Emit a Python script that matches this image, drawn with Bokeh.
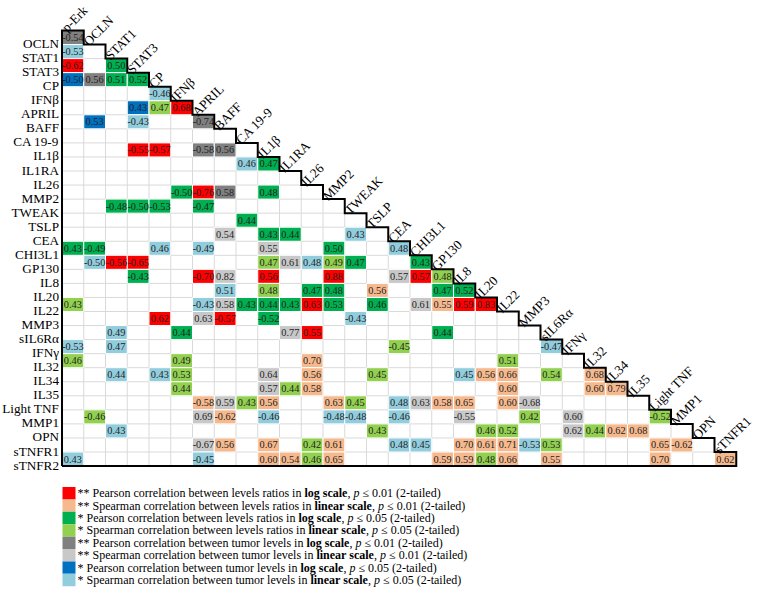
import math
from bokeh.plotting import figure
from bokeh.models import ColumnDataSource, Range1d
from bokeh.core.properties import value
from bokeh.embed import file_html
from bokeh.resources import INLINE

# ---------------- data ----------------
col_labels = ["p-Erk", "OCLN", "STAT1", "STAT3", "CP", "IFNβ", "APRIL", "BAFF",
              "CA 19-9", "IL1β", "IL1RA", "IL26", "MMP2", "TWEAK", "TSLP", "CEA",
              "CHI3L1", "GP130", "IL8", "IL20", "IL22", "MMP3", "sIL6Rα", "IFNγ",
              "IL32", "IL34", "IL35", "Light TNF", "MMP1", "OPN", "sTNFR1"]
row_labels = col_labels[1:] + ["sTNFR2"]

# significance categories (legend order)
cat_codes = ["A", "B", "C", "D", "E", "F", "G", "H"]
cat_colors = ["#FF0000", "#F6B98E", "#00B050", "#92D050",
              "#808080", "#C8C8C8", "#0070C0", "#92CDDD"]
cat_stars = ["**", "**", "*", "*", "**", "**", "*", "*"]
cat_method = ["Pearson", "Spearman", "Pearson", "Spearman",
              "Pearson", "Spearman", "Pearson", "Spearman"]
cat_measure = ["levels ratios"] * 4 + ["tumor levels"] * 4
cat_scale = ["log", "linear", "log", "linear", "log", "linear", "log", "linear"]
cat_p = ["0.01", "0.01", "0.05", "0.05", "0.01", "0.01", "0.05", "0.05"]

# cells per row: (column variable, r, category)
r_OCLN = [("p-Erk", -0.54, "E")]
r_STAT1 = [("p-Erk", -0.53, "H")]
r_STAT3 = [("p-Erk", -0.62, "A"), ("STAT1", 0.50, "C")]
r_CP = [("p-Erk", -0.50, "G"), ("OCLN", 0.56, "E"), ("STAT1", 0.51, "C"), ("STAT3", 0.52, "C")]
r_IFNb = [("CP", -0.46, "H")]
r_APRIL = [("STAT3", 0.43, "G"), ("CP", 0.47, "D"), ("IFNβ", 0.68, "A")]
r_BAFF = [("OCLN", 0.53, "G"), ("STAT3", -0.43, "H"), ("APRIL", -0.74, "E")]
r_CA199 = []
r_IL1b = [("STAT3", -0.55, "A"), ("CP", -0.57, "A"), ("APRIL", -0.58, "E"), ("BAFF", 0.56, "E")]
r_IL1RA = [("CA 19-9", 0.46, "H"), ("IL1β", 0.47, "C")]
r_IL26 = []
r_MMP2 = [("IFNβ", -0.50, "C"), ("APRIL", -0.76, "A"), ("BAFF", 0.58, "E"), ("IL1β", 0.48, "C")]
r_TWEAK = [("STAT1", -0.48, "C"), ("STAT3", -0.50, "C"), ("CP", -0.53, "C"), ("APRIL", -0.47, "C")]
r_TSLP = [("CA 19-9", 0.44, "C")]
r_CEA = [("BAFF", 0.54, "F"), ("IL1β", 0.43, "C"), ("IL1RA", 0.44, "C"), ("TWEAK", 0.43, "H")]
r_CHI3L1 = [("p-Erk", 0.43, "C"), ("OCLN", -0.49, "C"), ("CP", 0.46, "H"), ("APRIL", -0.49, "H"),
            ("IL1β", 0.55, "F"), ("MMP2", 0.50, "C"), ("CEA", 0.48, "H")]
r_GP130 = [("OCLN", -0.50, "H"), ("STAT1", -0.56, "A"), ("STAT3", -0.65, "A"), ("IL1β", 0.47, "D"),
           ("IL1RA", 0.61, "F"), ("IL26", 0.48, "H"), ("MMP2", 0.49, "D"), ("TWEAK", 0.47, "C"),
           ("CHI3L1", 0.43, "C")]
r_IL8 = [("STAT3", -0.43, "C"), ("APRIL", -0.70, "A"), ("BAFF", 0.82, "F"), ("IL1β", 0.56, "A"),
         ("MMP2", 0.88, "A"), ("CEA", 0.57, "F"), ("CHI3L1", 0.57, "A"), ("GP130", 0.48, "D")]
r_IL20 = [("BAFF", 0.51, "H"), ("IL1β", 0.48, "D"), ("IL26", 0.47, "C"), ("MMP2", 0.48, "C"),
          ("TSLP", 0.56, "B"), ("GP130", 0.47, "C"), ("IL8", 0.52, "C")]
r_IL22 = [("p-Erk", 0.43, "D"), ("APRIL", -0.43, "H"), ("BAFF", 0.58, "F"), ("CA 19-9", 0.43, "C"),
          ("IL1β", 0.44, "C"), ("IL1RA", 0.43, "C"), ("IL26", 0.63, "A"), ("MMP2", 0.53, "C"),
          ("TSLP", 0.46, "C"), ("CHI3L1", 0.61, "F"), ("GP130", 0.55, "B"), ("IL8", 0.59, "A"),
          ("IL20", 0.83, "A")]
r_MMP3 = [("CP", 0.62, "A"), ("APRIL", 0.63, "F"), ("BAFF", -0.57, "A"), ("IL1β", -0.52, "C"),
          ("TWEAK", -0.43, "H")]
r_sIL6Ra = [("STAT1", 0.49, "H"), ("IFNβ", 0.44, "C"), ("IL1RA", 0.77, "F"), ("IL26", 0.55, "A"),
            ("GP130", 0.44, "C")]
r_IFNg = [("p-Erk", -0.53, "H"), ("STAT1", 0.47, "H"), ("CEA", -0.45, "D"), ("sIL6Rα", -0.47, "H")]
r_IL32 = [("p-Erk", 0.46, "D"), ("IFNβ", 0.49, "D"), ("IL26", 0.70, "B"), ("IL22", 0.51, "D")]
r_IL34 = [("STAT1", 0.44, "H"), ("CP", 0.43, "H"), ("IFNβ", 0.53, "D"), ("IL1β", 0.64, "F"),
          ("IL26", 0.56, "B"), ("TSLP", 0.45, "D"), ("IL8", 0.45, "H"), ("IL20", 0.56, "B"),
          ("IL22", 0.66, "B"), ("sIL6Rα", 0.54, "D"), ("IL32", 0.68, "B")]
r_IL35 = [("IFNβ", 0.44, "D"), ("IL1β", 0.57, "F"), ("IL1RA", 0.44, "D"), ("IL26", 0.58, "B"),
          ("IL22", 0.60, "B"), ("IL32", 0.60, "B"), ("IL34", 0.79, "B")]
r_LightTNF = [("APRIL", -0.58, "B"), ("BAFF", 0.59, "F"), ("CA 19-9", 0.43, "D"), ("IL1β", 0.56, "B"),
              ("MMP2", 0.63, "B"), ("TWEAK", 0.45, "D"), ("CEA", 0.48, "H"), ("CHI3L1", 0.63, "F"),
              ("GP130", 0.58, "B"), ("IL8", 0.65, "B"), ("IL22", 0.60, "B"), ("MMP3", -0.68, "F")]
r_MMP1 = [("OCLN", -0.46, "D"), ("APRIL", 0.69, "F"), ("BAFF", -0.62, "B"), ("IL1β", -0.46, "H"),
          ("MMP2", -0.48, "H"), ("TWEAK", -0.48, "H"), ("CEA", -0.46, "H"), ("IL8", -0.55, "F"),
          ("MMP3", 0.42, "D"), ("IFNγ", 0.60, "F"), ("Light TNF", -0.52, "D")]
r_OPN = [("STAT1", 0.43, "H"), ("TSLP", 0.43, "D"), ("IL20", 0.46, "D"), ("IL22", 0.52, "D"),
         ("IFNγ", 0.62, "F"), ("IL32", 0.44, "D"), ("IL34", 0.62, "B"), ("IL35", 0.68, "B")]
r_sTNFR1 = [("APRIL", -0.67, "F"), ("BAFF", 0.56, "B"), ("IL1β", 0.67, "B"), ("IL26", 0.42, "D"),
            ("MMP2", 0.61, "B"), ("CEA", 0.48, "H"), ("CHI3L1", 0.45, "H"), ("IL8", 0.70, "B"),
            ("IL20", 0.61, "B"), ("IL22", 0.71, "B"), ("MMP3", -0.53, "H"), ("sIL6Rα", 0.53, "D"),
            ("Light TNF", 0.65, "B"), ("MMP1", -0.62, "B")]
r_sTNFR2 = [("p-Erk", 0.43, "H"), ("APRIL", -0.45, "H"), ("IL1β", 0.60, "B"), ("IL1RA", 0.54, "B"),
            ("IL26", 0.46, "D"), ("MMP2", 0.65, "B"), ("GP130", 0.59, "B"), ("IL8", 0.59, "B"),
            ("IL20", 0.48, "D"), ("IL22", 0.66, "B"), ("sIL6Rα", 0.55, "B"), ("Light TNF", 0.70, "B"),
            ("sTNFR1", 0.62, "B")]

row_cells = [r_OCLN, r_STAT1, r_STAT3, r_CP, r_IFNb, r_APRIL, r_BAFF, r_CA199, r_IL1b, r_IL1RA,
             r_IL26, r_MMP2, r_TWEAK, r_TSLP, r_CEA, r_CHI3L1, r_GP130, r_IL8, r_IL20, r_IL22,
             r_MMP3, r_sIL6Ra, r_IFNg, r_IL32, r_IL34, r_IL35, r_LightTNF, r_MMP1, r_OPN,
             r_sTNFR1, r_sTNFR2]

# ---------------- layout ----------------
W, H = 755, 588
CW, CH = 21.75, 14.05          # cell size in px
X0, Y0 = 61.5, 30.0            # matrix top-left in figure px
N = len(row_labels)
LAB_FS = "13.2px"

def px2x(px):
    return (px - X0) / CW

def px2y(py):
    return (py - Y0) / CH

p = figure(width=W, height=H, output_backend="svg", toolbar_location=None,
           x_range=Range1d(px2x(0), px2x(W)), y_range=Range1d(px2y(H), px2y(0)),
           x_axis_location=None, y_axis_location=None, min_border=0)
p.grid.visible = False
p.outline_line_color = None
p.background_fill_color = "white"

col_index = {c: j for j, c in enumerate(col_labels)}
cat_color = dict(zip(cat_codes, cat_colors))

# light grid inside the lower triangle
gx0, gy0, gx1, gy1 = [], [], [], []
for i in range(N - 1):
    gx0.append(0); gy0.append(i + 1); gx1.append(i + 1); gy1.append(i + 1)
for j in range(1, N):
    gx0.append(j); gy0.append(j); gx1.append(j); gy1.append(N)
p.segment(gx0, gy0, gx1, gy1, line_color="#D9D9D9", line_width=1)

# colored significant cells
cx, cy, cc, ct = [], [], [], []
for i, cells in enumerate(row_cells):
    for cname, r, cat in cells:
        j = col_index[cname]
        cx.append(j + 0.5); cy.append(i + 0.5)
        cc.append(cat_color[cat]); ct.append(f"{r:.2f}")
src = ColumnDataSource(dict(x=cx, y=cy, color=cc, txt=ct))
p.rect("x", "y", width=1, height=1, source=src, fill_color="color",
       line_color="white", line_width=1)
p.text("x", "y", text="txt", source=src, text_align="center", text_baseline="middle",
       text_font=value("Liberation Sans Narrow"), text_font_size="10.3px", text_color="#1E1E1E")

# staircase outline
sx, sy = [0, 0], [N, 0]
for k in range(N):
    sx += [k + 1, k + 1]
    sy += [k, k + 1]
sx += [0]; sy += [N]
p.line(sx, sy, line_color="black", line_width=2, line_join="miter")

# row labels
p.text(x=[px2x(X0 - 3)] * N, y=[i + 1 for i in range(N)], text=row_labels,
       text_align="right", text_baseline="alphabetic", y_offset=-1,
       text_font=value("Liberation Serif"), text_font_size=LAB_FS, text_color="black")

# column labels (rotated)
p.text(x=list(range(len(col_labels))), y=list(range(len(col_labels))), text=col_labels,
       angle=math.pi / 4, text_align="left", text_baseline="alphabetic",
       x_offset=2, y_offset=-1,
       text_font=value("Liberation Serif"), text_font_size=LAB_FS, text_color="black")

# ---------------- legend ----------------
TR = {' ': 250, '*': 500, '(': 333, ')': 333, ',': 250, '-': 333, '.': 250, '0': 500, '1': 500,
      '2': 500, '5': 500, 'P': 556, 'S': 556, '≤': 549, 'a': 444, 'b': 500, 'c': 444, 'd': 500,
      'e': 444, 'f': 333, 'g': 500, 'h': 500, 'i': 278, 'k': 500, 'l': 278, 'm': 778, 'n': 500,
      'o': 500, 'p': 500, 'r': 333, 's': 389, 't': 278, 'u': 500, 'v': 500, 'w': 722, 'y': 500}
TB = {' ': 250, 'a': 500, 'c': 444, 'e': 444, 'g': 500, 'i': 278, 'l': 278, 'n': 556, 'o': 500,
      'r': 444, 's': 389}
TI = {'p': 500}
LFS = 12.0

def tw(s, table):
    return sum(table.get(ch, 500) for ch in s) * LFS / 1000.0

LEG_TOP = Y0 + N * CH + 21.0
LEG_ROW = 12.4
sw_x = [px2x(68.5)] * len(cat_codes)
sw_y = [px2y(LEG_TOP + LEG_ROW * (k + 0.5)) for k in range(len(cat_codes))]
p.rect(sw_x, sw_y, width=13, height=LEG_ROW, width_units="screen", height_units="screen",
       fill_color=cat_colors, line_color=None)

lt, lx, ly, lo, ls = [], [], [], [], []
tx0 = px2x(77)
for k in range(len(cat_codes)):
    s1 = f"{cat_stars[k]} {cat_method[k]} correlation between {cat_measure[k]} in "
    s2 = f"{cat_scale[k]} scale"
    s3 = ", "
    s4 = "p"
    s5 = f" ≤ {cat_p[k]} (2-tailed)"
    off = 0.0
    for seg, tab, style in [(s1, TR, "normal"), (s2, TB, "bold"), (s3, TR, "normal"),
                            (s4, TI, "italic"), (s5, TR, "normal")]:
        lead = len(seg) - len(seg.lstrip(" "))
        txt = seg.strip(" ")
        lt.append(txt)
        lx.append(tx0)
        ly.append(sw_y[k])
        lo.append(off + tw(" " * lead, TR))
        ls.append(style)
        off += tw(seg, tab)
lsrc = ColumnDataSource(dict(x=lx, y=ly, t=lt, o=lo, s=ls))
p.text("x", "y", text="t", x_offset="o", text_font_style="s", source=lsrc,
       text_align="left", text_baseline="middle",
       text_font=value("Liberation Serif"), text_font_size=f"{LFS}px", text_color="black")

open("out.html", "w").write(file_html(p, INLINE))
